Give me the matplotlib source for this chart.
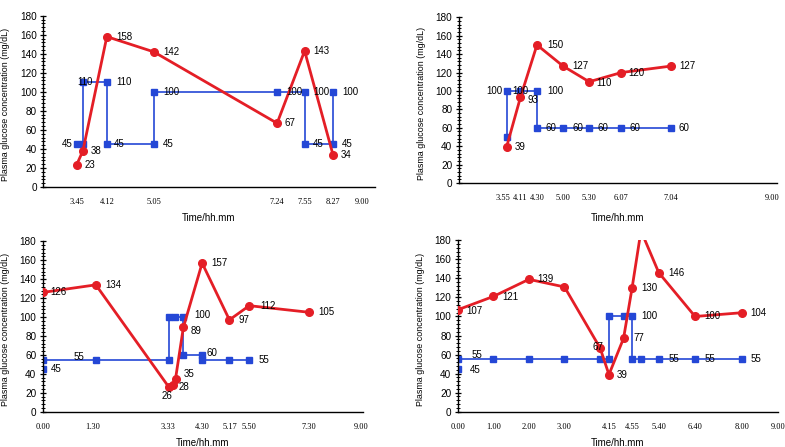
import matplotlib
matplotlib.use("Agg")
import matplotlib.pyplot as plt
from matplotlib.ticker import MultipleLocator

plt.rcParams['font.family'] = ['Liberation Sans', 'DejaVu Sans']

# ---------------- data (x in decimal hours) ----------------
p1_red_x = [3.63, 3.75, 4.2, 5.083, 7.4, 7.917, 8.45]
p1_red_y = [23, 38, 158, 142, 67, 143, 34]
p1_blue_x = [3.63, 3.75, 3.75, 4.2, 4.2, 5.083, 5.083, 7.4, 7.917, 7.917, 8.45, 8.45]
p1_blue_y = [45, 45, 110, 110, 45, 45, 100, 100, 100, 45, 45, 100]
p1_ticks = [3.63, 4.2, 5.083, 7.4, 7.917, 8.45, 9.0]
p1_ticklabels = ['3.45', '4.12', '5.05', '7.24', '7.55', '8.27', '9.00']

p2_red_x = [3.917, 4.183, 4.5, 5.0, 5.5, 6.117, 7.067]
p2_red_y = [39, 93, 150, 127, 110, 120, 127]
p2_blue_x = [3.917, 3.917, 4.183, 4.5, 4.5, 5.0, 5.5, 6.117, 7.067]
p2_blue_y = [50, 100, 100, 100, 60, 60, 60, 60, 60]
p2_ticks = [3.85, 4.183, 4.5, 5.0, 5.5, 6.117, 7.067, 9.0]
p2_ticklabels = ['3.55', '4.11', '4.30', '5.00', '5.30', '6.07', '7.04', '9.00']

p3_red_x = [0.0, 1.5, 3.56, 3.69, 3.75, 3.97, 4.5, 5.27, 5.83, 7.52]
p3_red_y = [126, 134, 26, 28, 35, 89, 157, 97, 112, 105]
p3_blue_x = [0.0, 0.0, 1.5, 3.56, 3.56, 3.73, 3.97, 3.97, 4.5, 4.5, 5.27, 5.83]
p3_blue_y = [45, 55, 55, 55, 100, 100, 100, 60, 60, 55, 55, 55]
p3_ticks = [0.0, 1.4, 3.55, 4.5, 5.283, 5.833, 7.5, 9.0]
p3_ticklabels = ['0.00', '1.30', '3.33', '4.30', '5.17', '5.50', '7.30', '9.00']

p4_red_x = [0.0, 1.0, 2.0, 3.0, 4.0, 4.25, 4.66, 4.9, 5.15, 5.65, 6.67, 8.0]
p4_red_y = [107, 121, 139, 131, 67, 39, 77, 130, 190, 146, 100, 104]
p4_blue_x = [0.0, 0.0, 1.0, 2.0, 3.0, 4.0, 4.25, 4.25, 4.66, 4.9, 4.9, 5.15, 5.65, 6.67, 8.0]
p4_blue_y = [45, 55, 55, 55, 55, 55, 55, 100, 100, 100, 55, 55, 55, 55, 55]
p4_ticks = [0.0, 1.0, 2.0, 3.0, 4.25, 4.917, 5.667, 6.667, 8.0, 9.0]
p4_ticklabels = ['0.00', '1.00', '2.00', '3.00', '4.15', '4.55', '5.40', '6.40', '8.00', '9.00']

# ---------------- label placement (pixel offsets dx, dy(up), ha; None = no label) ----------------
D = (9, 0, 'left')
p1_red_lab = [(8, 0, 'left'), (8, 0, 'left'), D, D, (7, 0, 'left'), D, (8, 0, 'left')]
p1_blue_lab = [(-4, 0, 'right'), None, (-6, 0, 'left'), D, (7, 0, 'left'), D, D, D, D,
               (8, 0, 'left'), D, D]
p2_red_lab = [(8, 0, 'left'), (7, -3, 'left'), (10, 0, 'left'), D, (7, -1, 'left'),
              (7, 0, 'left'), (8, 0, 'left')]
p2_blue_lab = [None, (-4, 0, 'right'), (-8, 0, 'left'), (10, 0, 'left'), D, D,
               (8, 0, 'left'), (8, 0, 'left'), (8, 0, 'left')]
p3_red_lab = [(8, 0, 'left'), D, (-2, -9, 'center'), (5, -2, 'left'), (8, 5, 'left'),
              (7, -4, 'left'), D, D, (11, 0, 'left'), D]
p3_blue_lab = [(8, 0, 'left'), (31, 3, 'left'), None, None, None, None, (11, 2, 'left'),
               None, (4, 2, 'left'), None, None, D]
p4_red_lab = [(9, -1, 'left'), (9, -1, 'left'), (8, 0, 'left'), None, (3, 1, 'right'),
              (8, 0, 'left'), (10, 0, 'left'), D, None, (10, 0, 'left'), D, (8, 0, 'left')]
p4_blue_lab = [(12, -1, 'left'), (14, 4, 'left'), None, None, None, None, None, None, None,
               D, None, None, (10, 0, 'left'), D, (8, 0, 'left')]

RED = '#e41e26'
BLUE = '#2447d6'

W, H = 785, 447
fig = plt.figure(figsize=(W / 100, H / 100), dpi=100)

# axes rectangles in pixels: left, right, bottom(y of 0), top(y of 180)
rects = [(43, 375, 187, 15.7), (458.7, 777, 183, 17.3),
         (42.7, 363, 411.7, 241.3), (457.7, 778, 411.7, 240.3)]
xlims = [(3.0, 9.24), (3.0, 9.1), (0.0, 9.04), (0.0, 9.0)]
xlab_gap = [26, 30, 26.5, 26.5]

panels = [
    (p1_red_x, p1_red_y, p1_blue_x, p1_blue_y, p1_ticks, p1_ticklabels, p1_red_lab, p1_blue_lab),
    (p2_red_x, p2_red_y, p2_blue_x, p2_blue_y, p2_ticks, p2_ticklabels, p2_red_lab, p2_blue_lab),
    (p3_red_x, p3_red_y, p3_blue_x, p3_blue_y, p3_ticks, p3_ticklabels, p3_red_lab, p3_blue_lab),
    (p4_red_x, p4_red_y, p4_blue_x, p4_blue_y, p4_ticks, p4_ticklabels, p4_red_lab, p4_blue_lab),
]

for i, (rx, ry, bx, by, tks, tkl, rlab, blab) in enumerate(panels):
    l, r, b, t = rects[i]
    ax = fig.add_axes([l / W, (H - b) / H, (r - l) / W, (b - t) / H])
    ax.plot(bx, by, color=BLUE, lw=1.2, marker='s', ms=4.2, zorder=2)
    ax.plot(rx, ry, color=RED, lw=2.0, marker='o', ms=5.5, zorder=3)
    for xs, ys, labs in ((rx, ry, rlab), (bx, by, blab)):
        for x, y, lab in zip(xs, ys, labs):
            if lab is None:
                continue
            dx, dy, ha = lab
            ax.annotate(str(y), (x, y), xytext=(dx, dy), textcoords='offset pixels',
                        ha=ha, va='center', fontsize=7.0, color='black', zorder=4,
                        annotation_clip=True)
    ax.set_xlim(*xlims[i])
    ax.set_ylim(0, 180)
    ax.yaxis.set_major_locator(MultipleLocator(20))
    ax.yaxis.set_minor_locator(MultipleLocator(4))
    ax.tick_params(axis='y', which='major', direction='inout', length=5, width=0.9,
                   labelsize=7.2, pad=2)
    ax.tick_params(axis='y', which='minor', direction='inout', length=3, width=0.7)
    ax.set_xticks(tks)
    ax.set_xticklabels(tkl, family=['Liberation Serif', 'DejaVu Serif'], fontsize=6)
    ax.tick_params(axis='x', which='both', length=0, pad=8)
    for s in ('top', 'right'):
        ax.spines[s].set_visible(False)
    for s in ('left', 'bottom'):
        ax.spines[s].set_linewidth(1.0)
    ax.set_xlabel('Time/hh.mm', fontsize=7)
    ax.xaxis.set_label_coords(0.5, -xlab_gap[i] / (b - t))
    ax.set_ylabel('Plasma glucose concentration (mg/dL)', fontsize=6.4)
    ax.yaxis.label.set_va('center')
    ax.yaxis.set_label_coords(-37 / (r - l), 0.48)

fig.savefig('out.png', dpi=100)
